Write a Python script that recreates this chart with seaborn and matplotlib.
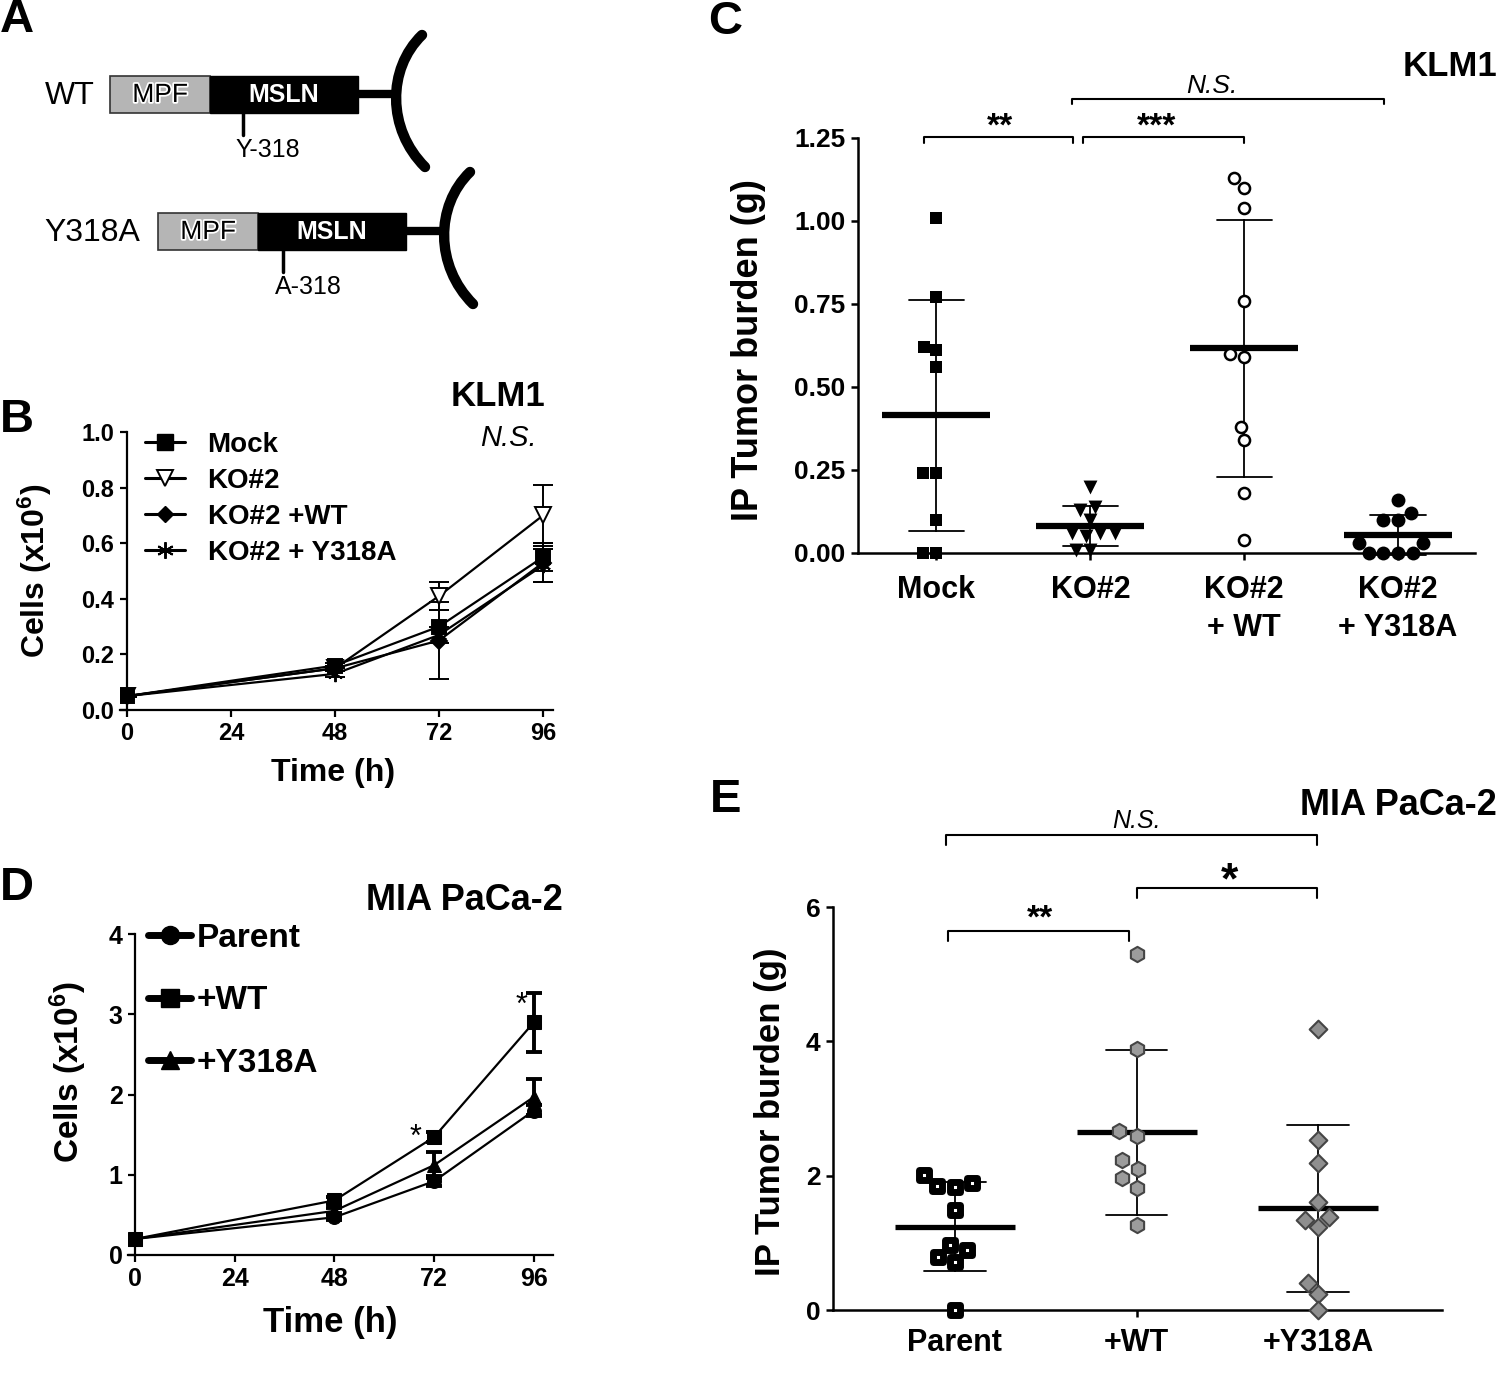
import numpy as np
import pandas as pd
import seaborn as sns
import matplotlib.pyplot as plt
import matplotlib.patheffects as pe
from matplotlib.lines import Line2D
from matplotlib.patches import Rectangle, PathPatch
from matplotlib.path import Path

# ---------------- data ----------------
# B: KLM1 in vitro growth, cells (x10^6)
time_h = [0, 48, 72, 96]
klm1_labels = ["Mock", "KO#2", "KO#2 +WT", "KO#2 + Y318A"]
klm1_mock = [0.05, 0.16, 0.30, 0.55]
klm1_mock_sd = [0.005, 0.01, 0.06, 0.05]
klm1_ko2 = [0.05, 0.15, 0.41, 0.70]
klm1_ko2_sd = [0.005, 0.01, 0.05, 0.11]
klm1_wt = [0.05, 0.15, 0.25, 0.53]
klm1_wt_sd = [0.005, 0.01, 0.14, 0.07]
klm1_y318a = [0.05, 0.13, 0.27, 0.52]
klm1_y318a_sd = [0.005, 0.01, 0.03, 0.06]

# D: MIA PaCa-2 in vitro growth, cells (x10^6)
mia_labels = ["Parent", "+WT", "+Y318A"]
mia_parent = [0.20, 0.47, 0.92, 1.80]
mia_parent_sd = [0.02, 0.03, 0.06, 0.07]
mia_wt = [0.20, 0.68, 1.47, 2.90]
mia_wt_sd = [0.02, 0.04, 0.06, 0.37]
mia_y318a = [0.20, 0.55, 1.12, 1.97]
mia_y318a_sd = [0.02, 0.03, 0.16, 0.22]

# C: KLM1 IP tumor burden (g)
c_groups = ["Mock", "KO#2", "KO#2\n+ WT", "KO#2\n+ Y318A"]
c_mock = [1.01, 0.77, 0.61, 0.62, 0.56, 0.24, 0.24, 0.10, 0.0, 0.0]
c_ko2 = [0.20, 0.14, 0.13, 0.10, 0.05, 0.06, 0.06, 0.06, 0.01, 0.01]
c_wt = [1.13, 1.10, 1.04, 0.76, 0.59, 0.60, 0.38, 0.34, 0.18, 0.04]
c_y318a = [0.16, 0.12, 0.10, 0.10, 0.03, 0.03, 0.0, 0.0, 0.0, 0.0]

# E: MIA PaCa-2 IP tumor burden (g)
e_groups = ["Parent", "+WT", "+Y318A"]
e_parent = [2.01, 1.85, 1.83, 1.89, 1.49, 0.97, 0.89, 0.71, 0.79, 0.0]
e_wt = [5.30, 3.89, 2.59, 2.67, 2.10, 2.23, 1.97, 1.81, 1.27]
e_y318a = [4.19, 2.53, 2.19, 1.61, 1.39, 1.24, 1.34, 0.40, 0.24, 0.0]

# significance brackets: (x0, x1, y, drop, text, text_x, text_y, size, style)
c_brackets = [(-0.08, 0.89, 1.253, 0.018, "**", 0.41, 1.258, 24, "normal"),
              (0.95, 2.0, 1.253, 0.018, "***", 1.43, 1.258, 24, "normal"),
              (0.88, 2.91, 1.367, 0.015, "N.S.", 1.79, 1.385, 19, "italic")]
e_brackets = [(-0.04, 0.96, 5.65, 0.15, "**", 0.47, 5.70, 24, "normal"),
              (1.0, 1.995, 6.28, 0.15, "*", 1.51, 6.20, 32, "normal"),
              (-0.05, 1.995, 7.07, 0.15, "N.S.", 1.0, 7.17, 18, "italic")]

# A: construct schematic (pixel layout of the drawing)
constructs = [("WT", 70, 110, 94, 243, "Y-318"),
              ("Y318A", 92, 158, 231, 283, "A-318")]

W, H = 1500, 1374

sns.set_style("ticks")
plt.rcParams["font.family"] = ["Liberation Sans", "DejaVu Sans"]
plt.rcParams["font.weight"] = "bold"
plt.rcParams["axes.labelweight"] = "bold"
plt.rcParams["mathtext.fontset"] = "custom"
plt.rcParams["mathtext.rm"] = "Liberation Sans"
plt.rcParams["mathtext.it"] = "Liberation Sans:italic"
plt.rcParams["mathtext.bf"] = "Liberation Sans:bold"
plt.rcParams["axes.edgecolor"] = "black"
plt.rcParams["axes.labelcolor"] = "black"
plt.rcParams["text.color"] = "black"
plt.rcParams["xtick.color"] = "black"
plt.rcParams["ytick.color"] = "black"

fig = plt.figure(figsize=(W / 100, H / 100), dpi=100)


def px_axes(x0, y0, x1, y1):
    return fig.add_axes([x0 / W, 1 - y1 / H, (x1 - x0) / W, (y1 - y0) / H])


def ftext(x, y, s, **kw):
    fig.text(x / W, 1 - y / H, s, **kw)


def style_axes(ax, lw, tick_size):
    sns.despine(ax=ax)
    for sp in ["left", "bottom"]:
        ax.spines[sp].set_linewidth(lw)
    ax.tick_params(width=lw, length=5, labelsize=tick_size, pad=4)


# ---------------- A ----------------
axA = px_axes(0, 0, 720, 330)
axA.set_xlim(0, 720)
axA.set_ylim(330, 0)
axA.axis("off")
for name, name_x, x0, yc, site_x, site in constructs:
    axA.text(name_x, yc + 2, name, ha="center", va="center", size=23, weight="normal")
    axA.add_patch(Rectangle((x0, yc - 18), 100, 37, facecolor="#b5b5b5", edgecolor="#333333", lw=1.2))
    axA.add_patch(Rectangle((x0 + 100, yc - 18), 148, 37, facecolor="black", edgecolor="black"))
    axA.text(x0 + 50, yc + 1, "MPF", ha="center", va="center", size=19, weight="normal",
             color="black", path_effects=[pe.withStroke(linewidth=2.5, foreground="white")])
    axA.text(x0 + 174, yc + 1, "MSLN", ha="center", va="center", size=18, color="white")
    xe = x0 + 248 + 40
    axA.plot([x0 + 248, xe], [yc, yc], color="black", lw=6, solid_capstyle="butt")
    arc = Path([(xe + 24, yc - 59), (xe - 11, yc - 25), (xe - 11, yc + 35), (xe + 27, yc + 73)],
               [Path.MOVETO, Path.CURVE4, Path.CURVE4, Path.CURVE4])
    axA.add_patch(PathPatch(arc, facecolor="none", edgecolor="black", lw=7.5, capstyle="round"))
    axA.plot([site_x, site_x], [yc + 19, yc + 41], color="black", lw=2.5)
    axA.text(site_x + 25, yc + 56, site, ha="center", va="center", size=18, weight="normal")

# ---------------- B ----------------
axB = px_axes(120, 432, 553, 710)
b_series = [(klm1_y318a, klm1_y318a_sd, dict(marker=(6, 2, 0), markersize=11, markerfacecolor="black")),
            (klm1_wt, klm1_wt_sd, dict(marker="D", markersize=8, markerfacecolor="black")),
            (klm1_ko2, klm1_ko2_sd, dict(marker="v", markersize=11, markerfacecolor="white")),
            (klm1_mock, klm1_mock_sd, dict(marker="s", markersize=10, markerfacecolor="black"))]
for vals, sd, mk in b_series:
    axB.errorbar(time_h, vals, yerr=sd, fmt="none", ecolor="black", elinewidth=1.4,
                 capsize=7, capthick=1.4)
    sns.lineplot(x=time_h, y=vals, color="black", linewidth=1.6, errorbar=None, ax=axB,
                 markeredgecolor="black", markeredgewidth=1.4, **mk)
axB.set_xlim(-1.6, 98.3)
axB.set_ylim(0, 1.0)
axB.spines["left"].set_position(("data", 0))
axB.set_xticks([0, 24, 48, 72, 96])
axB.set_yticks(np.arange(0, 1.01, 0.2))
axB.set_yticklabels([f"{v:.1f}" for v in np.arange(0, 1.01, 0.2)])
style_axes(axB, 1.6, 17)
axB.set_xlabel("Time (h)", size=23)
axB.set_ylabel("Cells (x10$^{6}$)", size=23)
axB.xaxis.set_label_coords(0.492, -0.225)
axB.yaxis.set_label_coords(-0.196, 0.5)
axB.xaxis.label.set_va("center")
axB.yaxis.label.set_va("center")
b_handles = [Line2D([], [], color="black", lw=2.2, marker="s", ms=11),
             Line2D([], [], color="black", lw=2.2, marker="v", ms=11, mfc="white", mew=1.4),
             Line2D([], [], color="black", lw=2.2, marker="D", ms=8),
             Line2D([], [], color="black", lw=2.2, marker=(6, 2, 0), ms=12, mew=1.4)]
axB.legend(b_handles, klm1_labels, loc="upper left", bbox_to_anchor=(0.058, 1.0),
           frameon=False, prop={"size": 20, "weight": "bold"}, handlelength=1.45,
           handletextpad=0.8, labelspacing=0.36, borderpad=0, borderaxespad=0)
ftext(545, 397, "KLM1", ha="right", va="center", size=25)
ftext(537, 438, "N.S.", ha="right", va="center", size=21, style="italic", weight="normal")

# ---------------- D ----------------
axD = px_axes(128, 934, 553, 1255)
d_series = [(mia_parent, mia_parent_sd, "o"), (mia_y318a, mia_y318a_sd, "^"), (mia_wt, mia_wt_sd, "s")]
for vals, sd, mk in d_series:
    axD.errorbar(time_h, vals, yerr=sd, fmt="none", ecolor="black", elinewidth=2.8,
                 capsize=6, capthick=2.8)
    sns.lineplot(x=time_h, y=vals, color="black", linewidth=1.6, errorbar=None, ax=axD,
                 marker=mk, markersize=10, markeredgecolor="black")
axD.set_xlim(-1.7, 100.6)
axD.set_ylim(0, 4)
axD.spines["left"].set_position(("data", 0))
axD.set_xticks([0, 24, 48, 72, 96])
axD.set_yticks([0, 1, 2, 3, 4])
style_axes(axD, 1.6, 18)
axD.set_xlabel("Time (h)", size=25)
axD.set_ylabel("Cells (x10$^{6}$)", size=24)
axD.xaxis.set_label_coords(0.475, -0.209)
axD.yaxis.set_label_coords(-0.141, 0.57)
axD.xaxis.label.set_va("center")
axD.yaxis.label.set_va("center")
d_handles = [Line2D([], [], color="black", lw=5, marker="o", ms=13),
             Line2D([], [], color="black", lw=5, marker="s", ms=13),
             Line2D([], [], color="black", lw=5, marker="^", ms=13)]
axD.legend(d_handles, mia_labels, loc="upper left", bbox_to_anchor=(0.047, 1.035),
           frameon=False, prop={"size": 24, "weight": "bold"}, handlelength=1.3,
           handletextpad=0.15, labelspacing=0.95, borderpad=0, borderaxespad=0)
axD.text(67.6, 1.46, "*", ha="center", va="center", size=22, weight="normal")
axD.text(93.1, 3.10, "*", ha="center", va="center", size=22, weight="normal")
ftext(563, 901, "MIA PaCa-2", ha="right", va="center", size=26)


# ---------------- C and E (scatter with mean +/- SD) ----------------
def dot_panel(ax, groups, values, styles, bar_size, bar_width, capsize):
    for g, vals, st in zip(groups, values, styles):
        sns.swarmplot(x=[g] * len(vals), y=vals, order=groups, ax=ax, **st)
    df = pd.DataFrame({"group": np.repeat(groups, [len(v) for v in values]),
                       "burden": np.concatenate(values)})
    sns.pointplot(data=df, x="group", y="burden", order=groups, errorbar="sd",
                  capsize=capsize, color="black", linestyle="none", marker="_",
                  markersize=bar_size, markeredgewidth=bar_width,
                  err_kws={"linewidth": 1.3}, ax=ax)
    for coll in ax.collections:
        coll.set_clip_on(False)
    for ln in ax.lines:
        ln.set_clip_on(False)


def brackets(ax, items):
    for x0, x1, y, drop, label, tx, ty, size, fstyle in items:
        ax.plot([x0, x0, x1, x1], [y - drop, y, y, y - drop], color="black", lw=1.5,
                clip_on=False)
        ax.text(tx, ty, label, ha="center", va="baseline", size=size, style=fstyle,
                weight="normal" if fstyle == "italic" else "bold")


axC = px_axes(858, 138, 1475, 553)
c_styles = [dict(marker="s", color="black", size=9, linewidth=0),
            dict(marker="v", color="black", size=10, linewidth=0),
            dict(marker="o", color="white", edgecolor="black", linewidth=1.8, size=8),
            dict(marker="o", color="black", size=10, linewidth=0)]
dot_panel(axC, c_groups, [c_mock, c_ko2, c_wt, c_y318a], c_styles, 78, 4.5, 0.36)
axC.set_xlim(-0.51, 3.5)
axC.set_ylim(0, 1.25)
axC.set_yticks(np.arange(0, 1.26, 0.25))
axC.set_yticklabels([f"{v:.2f}" for v in np.arange(0, 1.26, 0.25)])
style_axes(axC, 1.8, 19)
axC.tick_params(axis="x", labelsize=22, pad=11)
for lbl in axC.get_xticklabels():
    lbl.set_linespacing(1.35)
axC.set_xlabel("")
axC.set_ylabel("IP Tumor burden (g)", size=26)
axC.yaxis.set_label_coords(-0.178, 0.489)
axC.yaxis.label.set_va("center")
brackets(axC, c_brackets)
ftext(1497, 67, "KLM1", ha="right", va="center", size=25)

axE = px_axes(833, 907, 1442, 1310)
e_styles = [dict(marker="s", color="white", edgecolor="black", linewidth=5, size=7),
            dict(marker="h", color="#9c9c9c", edgecolor="#454545", linewidth=1.5, size=11),
            dict(marker="D", color="#8f8f8f", edgecolor="#454545", linewidth=1.5, size=9)]
dot_panel(axE, e_groups, [e_parent, e_wt, e_y318a], e_styles, 86, 3.8, 0.34)
axE.set_xlim(-0.67, 2.68)
axE.set_ylim(0, 6)
axE.set_yticks([0, 2, 4, 6])
style_axes(axE, 1.8, 19)
axE.tick_params(axis="x", labelsize=22, pad=8)
axE.set_xlabel("")
axE.set_ylabel("IP Tumor burden (g)", size=25)
axE.yaxis.set_label_coords(-0.103, 0.491)
axE.yaxis.label.set_va("center")
brackets(axE, e_brackets)
ftext(1497, 805, "MIA PaCa-2", ha="right", va="center", size=26)

# panel letters
for letter, x, y in [("A", 0, 20), ("B", 0, 420), ("C", 708, 22), ("D", 0, 888), ("E", 710, 800)]:
    ftext(x, y, letter, ha="left", va="center", size=34)

fig.savefig("out.png", dpi=100)
